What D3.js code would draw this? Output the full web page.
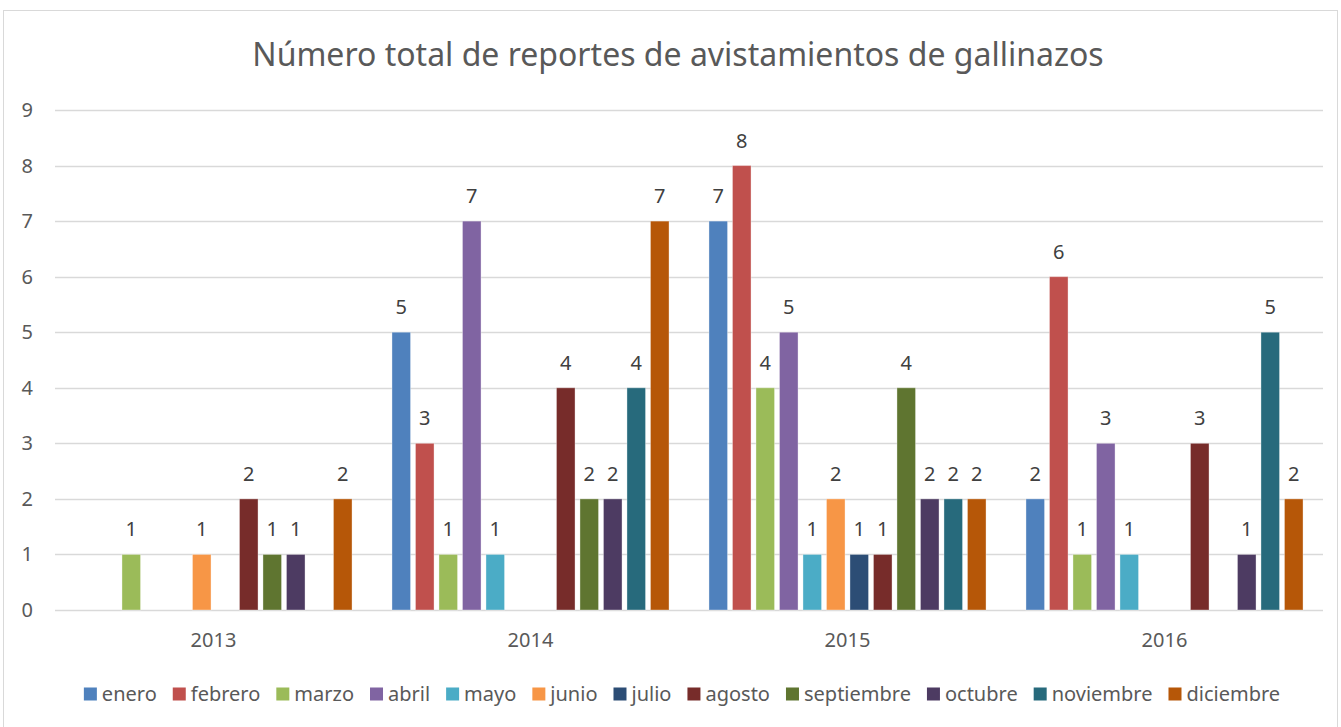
<!DOCTYPE html>
<html>
<head>
<meta charset="utf-8">
<script src="https://cdn.jsdelivr.net/npm/d3@7"></script>
<style>
  body { margin: 0; background: #fff; }
  svg { display: block; font-family: "Noto Sans", "Open Sans", sans-serif; }
</style>
</head>
<body>
<svg id="chart" width="1341" height="727"></svg>
<script>
// data
var years = ["2013", "2014", "2015", "2016"];
var months = ["enero", "febrero", "marzo", "abril", "mayo", "junio", "julio",
              "agosto", "septiembre", "octubre", "noviembre", "diciembre"];
var monthColors = ["#4F81BD", "#C0504D", "#9BBB59", "#8064A2", "#4BACC6", "#F79646",
                   "#2C4D75", "#772C2A", "#5F7530", "#4D3B62", "#276A7C", "#B65708"];
// one row per year, one value per month (null = no report)
var v2013 = [null, null, 1, null, null, 1, null, 2, 1, 1, null, 2];
var v2014 = [5, 3, 1, 7, 1, null, null, 4, 2, 2, 4, 7];
var v2015 = [7, 8, 4, 5, 1, 2, 1, 1, 4, 2, 2, 2];
var v2016 = [2, 6, 1, 3, 1, null, null, 3, null, 1, 5, 2];
var yTicks = [0, 1, 2, 3, 4, 5, 6, 7, 8, 9];
var title = "Número total de reportes de avistamientos de gallinazos";

var rows = [v2013, v2014, v2015, v2016];

var svg = d3.select("#chart");
var plot = {left: 55, right: 1323, top: 110, bottom: 610};

// chart frame
svg.append("rect")
  .attr("x", 3.5).attr("y", 10.5)
  .attr("width", 1334).attr("height", 730)
  .attr("fill", "#fff")
  .attr("stroke", "#d9d9d9");

//Scales
var x0 = d3.scaleBand().domain(years).range([plot.left, plot.right]).padding(0);
var x1 = d3.scaleBand().domain(months).range([0, x0.bandwidth()])
  .paddingInner(0.21).paddingOuter(0.85);
var y = d3.scaleLinear().domain([0, 9]).range([plot.bottom, plot.top]);
var color = d3.scaleOrdinal().domain(months).range(monthColors);

//Gridlines
svg.append("g").selectAll("line")
  .data(yTicks)
  .join("line")
  .attr("x1", plot.left).attr("x2", plot.right)
  .attr("y1", function(d){ return Math.round(y(d)) + 0.5; })
  .attr("y2", function(d){ return Math.round(y(d)) + 0.5; })
  .attr("stroke", "#d9d9d9")
  .attr("stroke-width", 1.3);

//Y labels
svg.append("g").selectAll("text")
  .data(yTicks)
  .join("text")
  .attr("x", 33)
  .attr("y", function(d){ return y(d) + 7; })
  .attr("text-anchor", "end")
  .attr("fill", "#595959")
  .style("font-size", "20px")
  .text(function(d){ return d; });

//X labels
svg.append("g").selectAll("text")
  .data(years)
  .join("text")
  .attr("x", function(d){ return x0(d) + x0.bandwidth() / 2; })
  .attr("y", 647)
  .attr("text-anchor", "middle")
  .attr("fill", "#595959")
  .style("font-size", "20px")
  .text(function(d){ return d; });

//Bars
var groups = svg.append("g").selectAll("g")
  .data(years)
  .join("g")
  .attr("transform", function(d){ return "translate(" + x0(d) + ",0)"; });

var cells = groups.selectAll("g")
  .data(function(d, i){
    return months.map(function(m, j){ return {month: m, value: rows[i][j]}; })
      .filter(function(e){ return e.value != null; });
  })
  .join("g");

cells.append("rect")
  .attr("x", function(d){ return x1(d.month); })
  .attr("width", x1.bandwidth())
  .attr("y", function(d){ return y(d.value); })
  .attr("height", function(d){ return y(0) - y(d.value); })
  .attr("fill", function(d){ return color(d.month); })
  .attr("stroke", "#fff")
  .attr("stroke-opacity", 0.35)
  .attr("stroke-width", 1);

cells.append("text")
  .attr("x", function(d){ return x1(d.month) + x1.bandwidth() / 2; })
  .attr("y", function(d){ return y(d.value) - 18; })
  .attr("text-anchor", "middle")
  .attr("fill", "#404040")
  .style("font-size", "20px")
  .text(function(d){ return d.value; });

//Title
svg.append("text")
  .attr("x", 678)
  .attr("y", 66)
  .attr("text-anchor", "middle")
  .attr("fill", "#595959")
  .style("font-size", "32px")
  .text(title);

//Legend
var legend = svg.append("g");
var items = legend.selectAll("g")
  .data(months)
  .join("g");
items.append("rect")
  .attr("width", 13).attr("height", 13)
  .attr("y", 687.5)
  .attr("fill", function(d){ return color(d); });
items.append("text")
  .attr("x", 18)
  .attr("y", 701)
  .attr("fill", "#595959")
  .style("font-size", "20px")
  .text(function(d){ return d; });

var gap = 16;
var pos = 0, offsets = [];
items.each(function(d){
  offsets.push(pos);
  pos += 18 + this.querySelector("text").getComputedTextLength() + gap;
});
var total = pos - gap;
var startX = 682 - total / 2;
items.attr("transform", function(d, i){ return "translate(" + (startX + offsets[i]) + ",0)"; });
</script>
</body>
</html>
